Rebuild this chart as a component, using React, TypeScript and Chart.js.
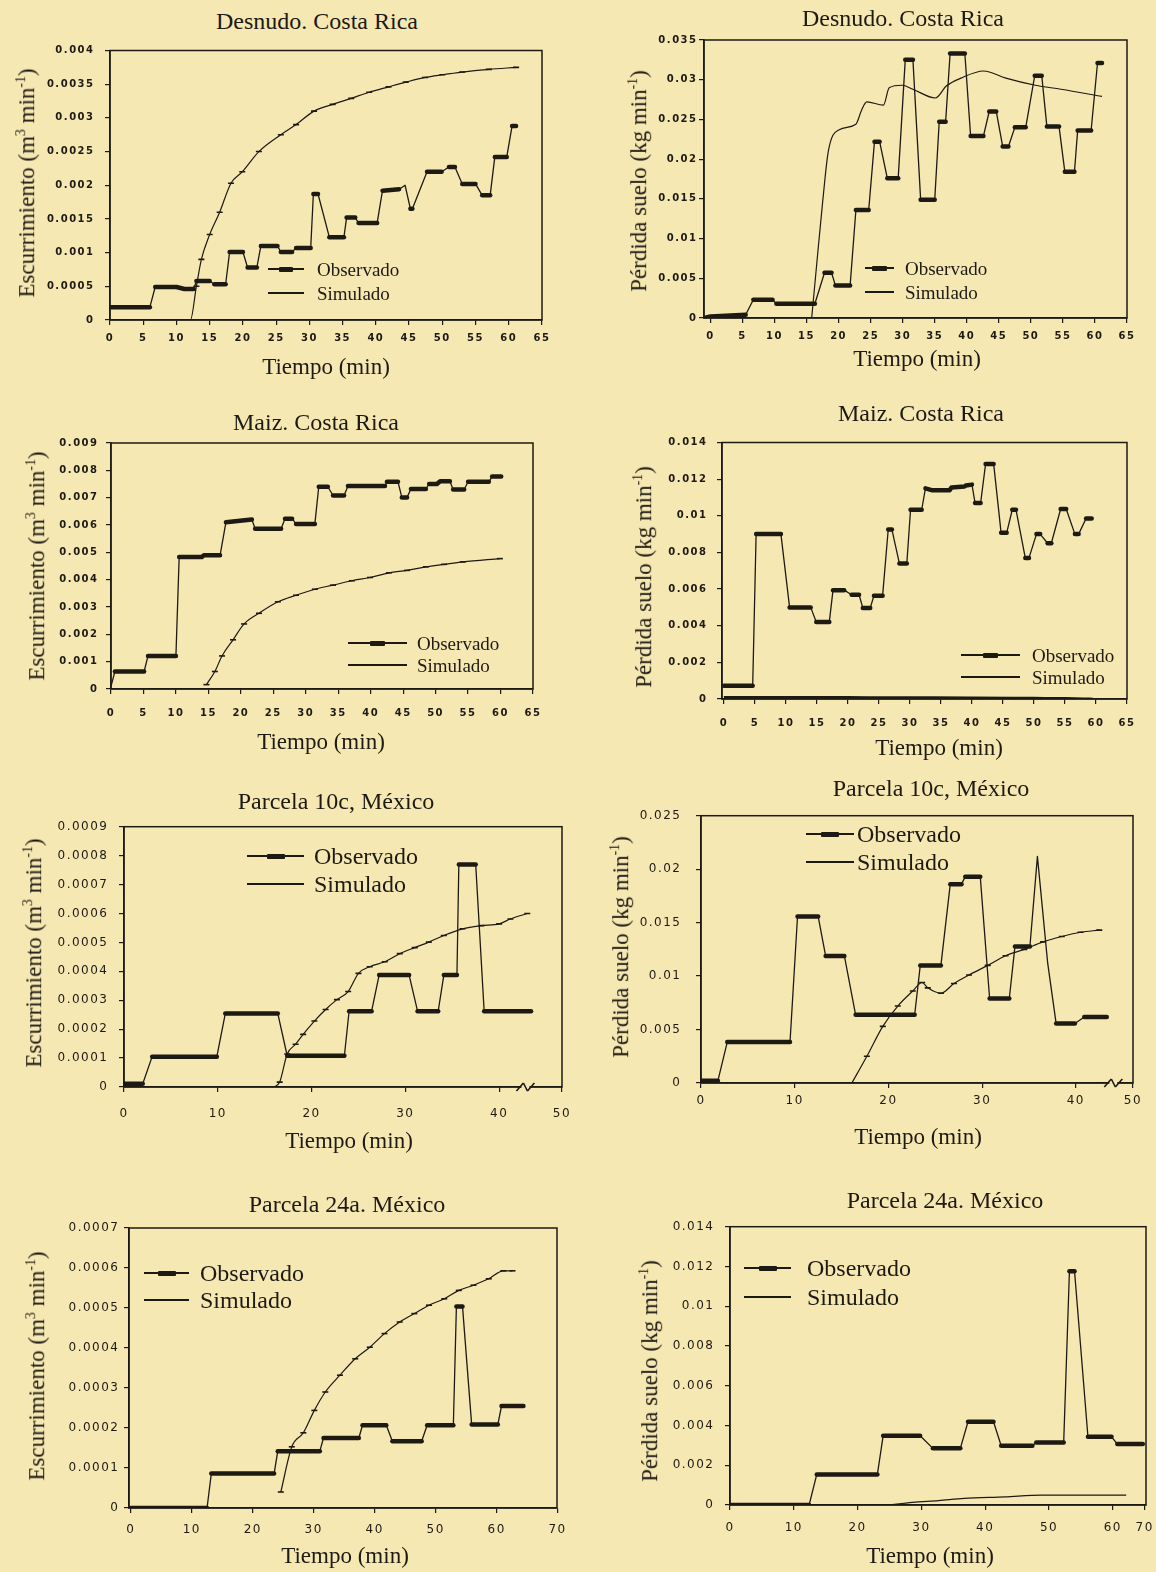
import React, { useEffect, useRef } from "react";
import { Chart, registerables } from "chart.js";
Chart.register(...registerables);

const INK = "#1d1a14";
const PAPER = "#f6e8b3";
const SERIF = '"Liberation Serif", "Times New Roman", Times, serif';
const SANS = '"DejaVu Sans", Verdana, sans-serif';

// ---------- texts ----------
const TITLE_DESNUDO = "Desnudo. Costa Rica";
const TITLE_MAIZ = "Maiz. Costa Rica";
const TITLE_10C = "Parcela 10c, México";
const TITLE_24A = "Parcela 24a. México";
const X_TITLE = "Tiempo (min)";
const LEGEND_OBS = "Observado";
const LEGEND_SIM = "Simulado";

// ---------- Panel 1: Desnudo, escurrimiento ----------
const P1_OBS_X = [0, 6, 6.8, 10, 11.2, 12.6, 13, 15, 15.7, 17.4, 18, 20, 20.7, 22.1, 22.7, 25.2, 25.7, 27.4, 28, 30.2, 30.6, 31.3, 33, 35.2, 35.6, 36.9, 37.4, 40.2, 41, 43.5, 44.4, 45.2, 45.5, 47.7, 49.9, 51, 51.9, 53, 55, 56, 57.2, 57.9, 59.7, 60.5, 61.1];
const P1_OBS_Y = [0.00019, 0.00019, 0.00049, 0.00049, 0.00046, 0.00046, 0.00058, 0.00058, 0.00053, 0.00053, 0.00101, 0.00101, 0.00078, 0.00078, 0.0011, 0.0011, 0.00101, 0.00101, 0.00107, 0.00107, 0.00187, 0.00187, 0.00123, 0.00123, 0.00152, 0.00152, 0.00144, 0.00144, 0.00192, 0.00194, 0.002, 0.00165, 0.00165, 0.0022, 0.0022, 0.00227, 0.00227, 0.00202, 0.00202, 0.00185, 0.00185, 0.00242, 0.00242, 0.00288, 0.00288];
const P1_SIM_X = [0, 12.1, 13, 13.75, 15, 16.5, 18.2, 19.9, 22.4, 25.7, 28, 30.7, 33.5, 36.3, 39, 41.9, 44.5, 47.4, 50, 53, 57, 61.1];
const P1_SIM_Y = [0, 0, 0.0005, 0.0009, 0.00127, 0.0016, 0.00203, 0.0022, 0.0025, 0.00275, 0.0029, 0.0031, 0.0032, 0.00329, 0.00338, 0.00346, 0.00353, 0.0036, 0.00364, 0.00368, 0.00372, 0.00375];
const P1_X_TICKS = [0, 5, 10, 15, 20, 25, 30, 35, 40, 45, 50, 55, 60, 65];
const P1_X_LABELS = ["0", "5", "10", "15", "20", "25", "30", "35", "40", "45", "50", "55", "60", "65"];
const P1_Y_TICKS = [0, 0.0005, 0.001, 0.0015, 0.002, 0.0025, 0.003, 0.0035, 0.004];
const P1_Y_LABELS = ["0", "0.0005", "0.001", "0.0015", "0.002", "0.0025", "0.003", "0.0035", "0.004"];

// ---------- Panel 2: Desnudo, pérdida de suelo ----------
const P2_OBS_X = [-1, 0, 5.5, 6.7, 9.7, 10.3, 16.3, 17.8, 18.9, 19.5, 21.8, 22.7, 24.7, 25.6, 26.4, 27.6, 29.3, 30.4, 31.6, 32.8, 35, 35.7, 36.7, 37.4, 39.7, 40.6, 42.6, 43.5, 44.6, 45.6, 46.5, 47.5, 49.2, 50.6, 51.7, 52.5, 54.4, 55.3, 56.8, 57.3, 59.4, 60.4, 61.1];
const P2_OBS_Y = [0, 0.0002, 0.0004, 0.0023, 0.0023, 0.0018, 0.0018, 0.0057, 0.0057, 0.0041, 0.0041, 0.0136, 0.0136, 0.0222, 0.0222, 0.0176, 0.0176, 0.0325, 0.0325, 0.0149, 0.0149, 0.0247, 0.0247, 0.0333, 0.0333, 0.0229, 0.0229, 0.026, 0.026, 0.0216, 0.0216, 0.024, 0.024, 0.0305, 0.0305, 0.0241, 0.0241, 0.0184, 0.0184, 0.0236, 0.0236, 0.0321, 0.0321];
const P2_SIM_X = [15.8, 16.6, 17.5, 18.4, 20.1, 22.7, 23.6, 24.4, 27, 27.9, 29.9, 31.6, 35.1, 36.8, 39.1, 42.6, 46.1, 50.7, 54.7, 61.1];
const P2_SIM_Y = [0, 0.0069, 0.0145, 0.021, 0.0237, 0.0244, 0.0262, 0.0272, 0.0268, 0.029, 0.0293, 0.0288, 0.0277, 0.0292, 0.0302, 0.0311, 0.0302, 0.0293, 0.0288, 0.0279];
const P2_X_TICKS = [0, 5, 10, 15, 20, 25, 30, 35, 40, 45, 50, 55, 60, 65];
const P2_X_LABELS = ["0", "5", "10", "15", "20", "25", "30", "35", "40", "45", "50", "55", "60", "65"];
const P2_Y_TICKS = [0, 0.005, 0.01, 0.015, 0.02, 0.025, 0.03, 0.035];
const P2_Y_LABELS = ["0", "0.005", "0.01", "0.015", "0.02", "0.025", "0.03", "0.035"];

// ---------- Panel 3: Maiz, escurrimiento ----------
const P3_OBS_X = [0, 0.6, 5.1, 5.7, 10, 10.5, 14, 14.3, 16.8, 17.7, 21.7, 22.2, 26.2, 26.8, 27.9, 28.5, 31.4, 32, 33.4, 34.2, 35.9, 36.5, 42.2, 42.5, 44.2, 44.8, 45.6, 46.2, 48.5, 49, 50.2, 50.7, 52.2, 52.7, 54.4, 55, 58.2, 58.7, 60.1];
const P3_OBS_Y = [0.0001, 0.00064, 0.00064, 0.00121, 0.00121, 0.00483, 0.00483, 0.00489, 0.00489, 0.0061, 0.0062, 0.00586, 0.00586, 0.00623, 0.00623, 0.00604, 0.00604, 0.0074, 0.0074, 0.00708, 0.00708, 0.00743, 0.00743, 0.00758, 0.00758, 0.00701, 0.00701, 0.00732, 0.00732, 0.0075, 0.0075, 0.0076, 0.0076, 0.0073, 0.0073, 0.00758, 0.00758, 0.00777, 0.00777];
const P3_SIM_X = [14.7, 16, 17.1, 18.8, 20.5, 22.8, 25.7, 28.5, 31.4, 34.2, 37.1, 39.9, 42.8, 45.6, 48.5, 51.3, 54.2, 59.9];
const P3_SIM_Y = [0.00016, 0.00064, 0.00121, 0.0018, 0.00238, 0.00277, 0.00319, 0.00343, 0.00365, 0.0038, 0.00396, 0.00408, 0.00425, 0.00434, 0.00447, 0.00456, 0.00465, 0.00477];
const P3_X_TICKS = [0, 5, 10, 15, 20, 25, 30, 35, 40, 45, 50, 55, 60, 65];
const P3_X_LABELS = ["0", "5", "10", "15", "20", "25", "30", "35", "40", "45", "50", "55", "60", "65"];
const P3_Y_TICKS = [0, 0.001, 0.002, 0.003, 0.004, 0.005, 0.006, 0.007, 0.008, 0.009];
const P3_Y_LABELS = ["0", "0.001", "0.002", "0.003", "0.004", "0.005", "0.006", "0.007", "0.008", "0.009"];

// ---------- Panel 4: Maiz, pérdida de suelo ----------
const P4_OBS_X = [0, 4.65, 5.2, 9.2, 10.6, 14, 14.9, 17, 17.6, 19.4, 20.6, 21.8, 22.4, 23.6, 24.2, 25.6, 26.5, 27.1, 28.3, 29.5, 30.1, 31.9, 32.5, 33.5, 36.4, 36.7, 38.8, 39, 40, 40.5, 41.4, 42.2, 43.5, 44.7, 45.6, 46.5, 47.1, 48.6, 49.2, 50.4, 51, 52.2, 52.8, 54.3, 55.2, 56.6, 57.2, 58.4, 59.3];
const P4_OBS_Y = [0.00072, 0.00072, 0.009, 0.009, 0.005, 0.005, 0.0042, 0.0042, 0.00594, 0.00594, 0.00569, 0.00569, 0.00497, 0.00497, 0.00564, 0.00564, 0.00925, 0.00925, 0.0074, 0.0074, 0.01033, 0.01033, 0.0115, 0.0114, 0.0114, 0.01155, 0.0116, 0.01165, 0.0117, 0.0107, 0.0107, 0.01283, 0.01283, 0.00907, 0.00907, 0.01033, 0.01033, 0.0077, 0.0077, 0.009, 0.009, 0.0085, 0.0085, 0.01037, 0.01037, 0.009, 0.009, 0.00985, 0.00985];
const P4_SIM_X = [0, 10, 20, 30, 40, 50, 55, 58, 59.5];
const P4_SIM_Y = [0.0001, 0.0001, 0.00009, 0.00008, 0.00007, 0.00005, 0.00004, 0.00002, 0];
const P4_X_TICKS = [0, 5, 10, 15, 20, 25, 30, 35, 40, 45, 50, 55, 60, 65];
const P4_X_LABELS = ["0", "5", "10", "15", "20", "25", "30", "35", "40", "45", "50", "55", "60", "65"];
const P4_Y_TICKS = [0, 0.002, 0.004, 0.006, 0.008, 0.01, 0.012, 0.014];
const P4_Y_LABELS = ["0", "0.002", "0.004", "0.006", "0.008", "0.01", "0.012", "0.014"];

// ---------- Panel 5: Parcela 10c, escurrimiento ----------
const P5_OBS_X = [0, 2, 3, 9.9, 10.8, 16.4, 17.4, 23.5, 24, 26.4, 27.2, 30.4, 31.3, 33.5, 34.1, 35.5, 35.7, 37.5, 38.4, 43.4];
const P5_OBS_Y = [0.000011, 0.000011, 0.000105, 0.000105, 0.000254, 0.000254, 0.000108, 0.000108, 0.000262, 0.000262, 0.000387, 0.000387, 0.000262, 0.000262, 0.000387, 0.000387, 0.000769, 0.000769, 0.000262, 0.000262];
const P5_SIM_X = [16, 16.6, 17.4, 18.3, 19.1, 20.3, 21.5, 22.7, 23.9, 25, 26.2, 27.8, 29.4, 31, 32.5, 34.1, 36.1, 38.1, 40, 41.2, 43];
const P5_SIM_Y = [0, 0.000017, 0.000114, 0.000148, 0.000182, 0.000228, 0.000268, 0.000302, 0.00033, 0.000393, 0.000416, 0.000433, 0.000461, 0.000482, 0.000501, 0.000524, 0.000547, 0.000558, 0.000564, 0.000581, 0.0006];
const P5_X_TICKS = [0, 10, 20, 30, 40, 46.7];
const P5_X_LABELS = ["0", "10", "20", "30", "40", "50"];
const P5_Y_TICKS = [0, 0.0001, 0.0002, 0.0003, 0.0004, 0.0005, 0.0006, 0.0007, 0.0008, 0.0009];
const P5_Y_LABELS = ["0", "0.0001", "0.0002", "0.0003", "0.0004", "0.0005", "0.0006", "0.0007", "0.0008", "0.0009"];

// ---------- Panel 6: Parcela 10c, pérdida de suelo ----------
const P6_OBS_X = [0, 1.8, 2.8, 9.5, 10.3, 12.5, 13.3, 15.3, 16.5, 22.8, 23.4, 25.6, 26.6, 27.8, 28.2, 29.8, 30.8, 32.9, 33.5, 35.1, 35.9, 37, 37.9, 39.9, 40.9, 43.3];
const P6_OBS_Y = [0.0002, 0.0002, 0.00383, 0.00383, 0.01558, 0.01558, 0.01188, 0.01188, 0.00638, 0.00638, 0.011, 0.011, 0.0186, 0.0186, 0.0193, 0.0193, 0.0079, 0.0079, 0.01276, 0.01276, 0.0212, 0.01118, 0.00556, 0.00556, 0.00617, 0.00617];
const P6_SIM_X = [16.1, 17.7, 19.4, 21, 22.6, 23.6, 24.2, 25.6, 27, 28.6, 30.6, 32.5, 34.5, 36.5, 38.5, 40.5, 42.5];
const P6_SIM_Y = [0, 0.0025, 0.0053, 0.0072, 0.0086, 0.0094, 0.0089, 0.0084, 0.0093, 0.0101, 0.011, 0.0119, 0.0125, 0.0132, 0.0137, 0.0141, 0.0143];
const P6_X_TICKS = [0, 10, 20, 30, 40, 46.1];
const P6_X_LABELS = ["0", "10", "20", "30", "40", "50"];
const P6_Y_TICKS = [0, 0.005, 0.01, 0.015, 0.02, 0.025];
const P6_Y_LABELS = ["0", "0.005", "0.01", "0.015", "0.02", "0.025"];

// ---------- Panel 7: Parcela 24a, escurrimiento ----------
const P7_OBS_X = [0, 12.5, 13.2, 23.5, 24.1, 31, 31.6, 37.4, 38, 41.9, 42.9, 47.7, 48.6, 52.9, 53.4, 54.4, 55.9, 60.2, 60.8, 64.4];
const P7_OBS_Y = [0, 0, 0.000086, 0.000086, 0.000142, 0.000142, 0.000175, 0.000175, 0.000207, 0.000207, 0.000167, 0.000167, 0.000207, 0.000207, 0.000504, 0.000504, 0.000209, 0.000209, 0.000255, 0.000255];
const P7_SIM_X = [24.6, 26.4, 28.3, 30.1, 31.9, 34.3, 36.8, 39.2, 41.6, 44.1, 46.5, 48.9, 51.4, 53.8, 56.2, 58.7, 61.1, 62.6];
const P7_SIM_Y = [0.00004, 0.000153, 0.000188, 0.000244, 0.00029, 0.000332, 0.000373, 0.000402, 0.000436, 0.000465, 0.000486, 0.000507, 0.000523, 0.000544, 0.000557, 0.000573, 0.000593, 0.000593];
const P7_X_TICKS = [0, 10, 20, 30, 40, 50, 60, 70];
const P7_X_LABELS = ["0", "10", "20", "30", "40", "50", "60", "70"];
const P7_Y_TICKS = [0, 0.0001, 0.0002, 0.0003, 0.0004, 0.0005, 0.0006, 0.0007];
const P7_Y_LABELS = ["0", "0.0001", "0.0002", "0.0003", "0.0004", "0.0005", "0.0006", "0.0007"];

// ---------- Panel 8: Parcela 24a, pérdida de suelo ----------
const P8_OBS_X = [0, 12.4, 13.6, 23.1, 24, 29.8, 31.8, 36.1, 37.3, 41.3, 42.5, 47.4, 48, 52.3, 53.2, 54, 56.1, 59.8, 60.7, 64.7];
const P8_OBS_Y = [0, 0, 0.00154, 0.00154, 0.00348, 0.00348, 0.00285, 0.00285, 0.00419, 0.00419, 0.00298, 0.00298, 0.00315, 0.00315, 0.01176, 0.01176, 0.00343, 0.00343, 0.00307, 0.00307];
const P8_SIM_X = [24.9, 28.6, 32.7, 36.7, 43.1, 48.8, 54.6, 62.1];
const P8_SIM_Y = [0, 0.00013, 0.00022, 0.00033, 0.00041, 0.0005, 0.0005, 0.0005];
const P8_X_TICKS = [0, 10, 20, 30, 40, 50, 60, 65];
const P8_X_LABELS = ["0", "10", "20", "30", "40", "50", "60", "70"];
const P8_Y_TICKS = [0, 0.002, 0.004, 0.006, 0.008, 0.01, 0.012, 0.014];
const P8_Y_LABELS = ["0", "0.002", "0.004", "0.006", "0.008", "0.01", "0.012", "0.014"];

// ---------- layout (page pixels) ----------
const YW = 90, PT = 14, PR = 24, XH = 42;
const BOLD_TICK = { size: 10, weight: "bold", ls: 1.5 };
const THIN_TICK = { size: 12, weight: "normal", ls: 1.5 };
const TITLE_SIZE = 24;
const AXIS_SIZE = 23;

const PANELS = [
  { key: "p1", area: [110, 48, 542, 320], x: [0, 65], y: [0, 0.004], xt: [P1_X_TICKS, P1_X_LABELS], yt: [P1_Y_TICKS, P1_Y_LABELS], obs: [P1_OBS_X, P1_OBS_Y], sim: [P1_SIM_X, P1_SIM_Y], tick: BOLD_TICK, yGap: 17, xOff: 18, simW: 1.2, marks: true,
    title: [TITLE_DESNUDO, 317, 21], yTitle: ["esc", 26, 183], xTitle: [326, 366], leg: { x1: 268, x2: 304, tx: 317, y1: 269, y2: 293, size: 19 } },
  { key: "p2", area: [704, 40, 1127, 318], x: [-1, 65], y: [0, 0.035], xt: [P2_X_TICKS, P2_X_LABELS], yt: [P2_Y_TICKS, P2_Y_LABELS], obs: [P2_OBS_X, P2_OBS_Y], sim: [P2_SIM_X, P2_SIM_Y], tick: BOLD_TICK, yGap: 8, xOff: 18, simW: 1.2, marks: false,
    title: [TITLE_DESNUDO, 903, 18], yTitle: ["per", 638, 181], xTitle: [917, 358], leg: { x1: 865, x2: 894, tx: 905, y1: 268, y2: 292, size: 19 } },
  { key: "p3", area: [111, 443, 533, 689], x: [0, 65], y: [0, 0.009], xt: [P3_X_TICKS, P3_X_LABELS], yt: [P3_Y_TICKS, P3_Y_LABELS], obs: [P3_OBS_X, P3_OBS_Y], sim: [P3_SIM_X, P3_SIM_Y], tick: BOLD_TICK, yGap: 14, xOff: 24, simW: 1.2, marks: true,
    title: [TITLE_MAIZ, 316, 422], yTitle: ["esc", 36, 566], xTitle: [321, 741], leg: { x1: 348, x2: 407, tx: 417, y1: 643, y2: 665, size: 19 } },
  { key: "p4", area: [722, 441, 1127, 699], x: [-0.3, 65], y: [0, 0.014], xt: [P4_X_TICKS, P4_X_LABELS], yt: [P4_Y_TICKS, P4_Y_LABELS], obs: [P4_OBS_X, P4_OBS_Y], sim: [P4_SIM_X, P4_SIM_Y], tick: BOLD_TICK, yGap: 16, xOff: 24, simW: 2.5, marks: false,
    title: [TITLE_MAIZ, 921, 413], yTitle: ["per", 643, 577], xTitle: [939, 747], leg: { x1: 961, x2: 1020, tx: 1032, y1: 655, y2: 677, size: 19 } },
  { key: "p5", area: [124, 823, 562, 1087], x: [0, 46.7], y: [0, 0.0009], xt: [P5_X_TICKS, P5_X_LABELS], yt: [P5_Y_TICKS, P5_Y_LABELS], obs: [P5_OBS_X, P5_OBS_Y], sim: [P5_SIM_X, P5_SIM_Y], tick: THIN_TICK, yGap: 17, xOff: 27, simW: 1.2, marks: true, brk: 42.8,
    title: [TITLE_10C, 336, 801], yTitle: ["esc", 33, 953], xTitle: [349, 1140], leg: { x1: 247, x2: 304, tx: 314, y1: 856, y2: 884, size: 24 } },
  { key: "p6", area: [701, 808, 1133, 1083], x: [0, 46.1], y: [0, 0.025], xt: [P6_X_TICKS, P6_X_LABELS], yt: [P6_Y_TICKS, P6_Y_LABELS], obs: [P6_OBS_X, P6_OBS_Y], sim: [P6_SIM_X, P6_SIM_Y], tick: THIN_TICK, yGap: 21, xOff: 18, simW: 1.2, marks: true, brk: 44,
    title: [TITLE_10C, 931, 788], yTitle: ["per", 620, 947], xTitle: [918, 1136], leg: { x1: 806, x2: 854, tx: 857, y1: 834, y2: 862, size: 24 } },
  { key: "p7", area: [129, 1228, 557, 1508], x: [-0.3, 69.9], y: [0, 0.0007], xt: [P7_X_TICKS, P7_X_LABELS], yt: [P7_Y_TICKS, P7_Y_LABELS], obs: [P7_OBS_X, P7_OBS_Y], sim: [P7_SIM_X, P7_SIM_Y], tick: THIN_TICK, yGap: 11, xOff: 22, simW: 1.2, marks: true,
    title: [TITLE_24A, 347, 1204], yTitle: ["esc", 36, 1366], xTitle: [345, 1555], leg: { x1: 144, x2: 189, tx: 200, y1: 1273, y2: 1300, size: 24 } },
  { key: "p8", area: [730, 1223, 1146, 1505], x: [0, 65.2], y: [0, 0.014], xt: [P8_X_TICKS, P8_X_LABELS], yt: [P8_Y_TICKS, P8_Y_LABELS], obs: [P8_OBS_X, P8_OBS_Y], sim: [P8_SIM_X, P8_SIM_Y], tick: THIN_TICK, yGap: 17, xOff: 23, simW: 1.2, marks: false,
    title: [TITLE_24A, 945, 1200], yTitle: ["per", 649, 1371], xTitle: [930, 1555], leg: { x1: 744, x2: 791, tx: 807, y1: 1268, y2: 1297, size: 24 } },
];

const framePlugin = {
  id: "frame",
  beforeDraw(chart: any, _a: any, opts: any) {
    (chart.ctx as any).letterSpacing = (opts.ls || 0) + "px";
  },
  afterDraw(chart: any, _a: any, opts: any) {
    const { ctx, chartArea: a } = chart;
    ctx.save();
    (ctx as any).letterSpacing = "0px";
    ctx.strokeStyle = INK;
    ctx.lineWidth = 1.5;
    ctx.strokeRect(a.left, a.top, a.right - a.left, a.bottom - a.top);
    if (opts.brk != null) {
      const x = chart.scales.x.getPixelForValue(opts.brk);
      const y = a.bottom;
      ctx.fillStyle = PAPER;
      ctx.fillRect(x - 4, y - 2, 8, 4);
      ctx.lineWidth = 1.6;
      ctx.beginPath();
      ctx.moveTo(x - 9, y + 4); ctx.lineTo(x - 2, y - 4);
      ctx.moveTo(x - 2, y - 4); ctx.lineTo(x + 2, y + 4);
      ctx.moveTo(x + 2, y + 4); ctx.lineTo(x + 9, y - 4);
      ctx.stroke();
    }
    ctx.restore();
  },
};

function labelFor(ticks: number[], labels: string[], v: number) {
  const i = ticks.findIndex((t) => Math.abs(t - v) < 1e-9);
  return i >= 0 ? labels[i] : "";
}

function Panel({ p }: { p: any }) {
  const ref = useRef<HTMLCanvasElement>(null);
  const [L, T, R, B] = p.area;
  const w = R - L + YW + PR;
  const h = B - T + PT + XH;
  useEffect(() => {
    const tickFont = { family: SANS, size: p.tick.size, weight: p.tick.weight };
    const [xTicks, xLabels] = p.xt;
    const [yTicks, yLabels] = p.yt;
    const chart = new Chart(ref.current as HTMLCanvasElement, {
      type: "line",
      data: {
        datasets: [
          {
            label: LEGEND_SIM,
            data: p.sim[0].map((x: number, i: number) => ({ x, y: p.sim[1][i] })),
            borderColor: INK,
            borderWidth: p.simW,
            cubicInterpolationMode: "monotone",
            pointStyle: "line",
            pointRadius: p.marks ? 3 : 0,
            pointBorderWidth: 1.6,
            pointBorderColor: INK,
            fill: false,
          },
          {
            label: LEGEND_OBS,
            data: p.obs[0].map((x: number, i: number) => ({ x, y: p.obs[1][i] })),
            borderColor: INK,
            borderWidth: 1.3,
            borderCapStyle: "round",
            borderJoinStyle: "round",
            pointRadius: 0,
            tension: 0,
            fill: false,
            segment: {
              borderWidth: (c: any) => (Math.abs(c.p0.y - c.p1.y) < 3 ? 4.5 : 1.3),
            },
          },
        ],
      },
      options: {
        responsive: false,
        animation: false,
        events: [],
        layout: { padding: { top: PT, right: PR, left: 0, bottom: 0 } },
        plugins: {
          legend: { display: false },
          tooltip: { enabled: false },
          title: { display: false },
          frame: { brk: p.brk, ls: p.tick.ls },
        } as any,
        scales: {
          x: {
            type: "linear",
            min: p.x[0],
            max: p.x[1],
            afterFit: (s: any) => { s.height = XH; },
            afterBuildTicks: (s: any) => { s.ticks = xTicks.map((v: number) => ({ value: v })); },
            ticks: {
              autoSkip: false,
              maxRotation: 0,
              font: tickFont,
              color: INK,
              padding: Math.max(0, p.xOff - 5 - 0.6 * p.tick.size),
              callback: (v: any) => labelFor(xTicks, xLabels, Number(v)),
            },
            grid: { display: true, drawOnChartArea: false, drawTicks: true, tickLength: 5, color: INK, lineWidth: 1.2 },
            border: { display: true, color: INK, width: 1.5 },
          },
          y: {
            type: "linear",
            min: p.y[0],
            max: p.y[1],
            afterFit: (s: any) => { s.width = YW; },
            afterBuildTicks: (s: any) => { s.ticks = yTicks.map((v: number) => ({ value: v })); },
            ticks: {
              autoSkip: false,
              font: tickFont,
              color: INK,
              padding: Math.max(0, p.yGap - 5 - p.tick.ls),
              callback: (v: any) => labelFor(yTicks, yLabels, Number(v)),
            },
            grid: { display: true, drawOnChartArea: false, drawTicks: true, tickLength: 5, color: INK, lineWidth: 1.2 },
            border: { display: true, color: INK, width: 1.5 },
          },
        },
      } as any,
      plugins: [framePlugin as any],
    });
    return () => chart.destroy();
  }, []);
  return (
    <canvas
      ref={ref}
      width={w}
      height={h}
      style={{ position: "absolute", left: L - YW, top: T - PT, width: w, height: h }}
    />
  );
}

const textBase: React.CSSProperties = {
  position: "absolute",
  fontFamily: SERIF,
  color: INK,
  lineHeight: 1,
  whiteSpace: "nowrap",
};

function YTitle({ kind, x, y }: { kind: string; x: number; y: number }) {
  return (
    <div style={{ ...textBase, left: x, top: y, fontSize: AXIS_SIZE, transform: "translate(-50%,-50%) rotate(-90deg)" }}>
      {kind === "esc" ? (
        <span>Escurrimiento (m<sup style={{ fontSize: "0.6em" }}>3</sup> min<sup style={{ fontSize: "0.6em" }}>-1</sup>)</span>
      ) : (
        <span>Pérdida suelo (kg min<sup style={{ fontSize: "0.6em" }}>-1</sup>)</span>
      )}
    </div>
  );
}

function Legend({ g }: { g: any }) {
  const rows = [
    { label: LEGEND_OBS, y: g.y1, bw: g.size * 0.75, bh: 5 },
    { label: LEGEND_SIM, y: g.y2, bw: g.size * 0.45, bh: 2.5 },
  ];
  return (
    <>
      {rows.map((r) => (
        <React.Fragment key={r.label}>
          <div style={{ position: "absolute", left: g.x1, top: r.y - 0.75, width: g.x2 - g.x1, height: 1.5, background: INK }} />
          <div style={{ position: "absolute", left: (g.x1 + g.x2) / 2 - r.bw / 2, top: r.y - r.bh / 2, width: r.bw, height: r.bh, background: INK, borderRadius: 1 }} />
          <div style={{ ...textBase, left: g.tx, top: r.y, fontSize: g.size, transform: "translateY(-50%)" }}>{r.label}</div>
        </React.Fragment>
      ))}
    </>
  );
}

export default function App() {
  return (
    <div style={{ position: "absolute", left: 0, top: 0, width: 1156, height: 1572, background: PAPER, overflow: "hidden" }}>
      {PANELS.map((p) => (
        <React.Fragment key={p.key}>
          <Panel p={p} />
          <div style={{ ...textBase, left: p.title[1], top: p.title[2], fontSize: TITLE_SIZE, transform: "translate(-50%,-50%)" }}>{p.title[0]}</div>
          <YTitle kind={p.yTitle[0] as string} x={p.yTitle[1] as number} y={p.yTitle[2] as number} />
          <div style={{ ...textBase, left: p.xTitle[0], top: p.xTitle[1], fontSize: AXIS_SIZE, transform: "translate(-50%,-50%)" }}>{X_TITLE}</div>
          <Legend g={p.leg} />
        </React.Fragment>
      ))}
    </div>
  );
}
